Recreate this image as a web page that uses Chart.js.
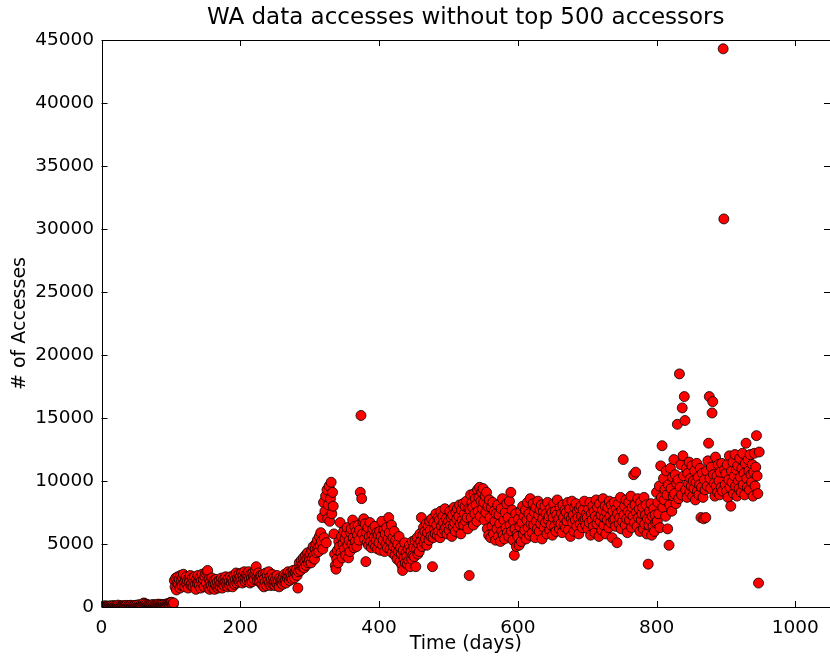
<!DOCTYPE html>
<html>
<head>
<meta charset="utf-8">
<title>WA data accesses</title>
<script src="https://cdn.jsdelivr.net/npm/chart.js@4/dist/chart.umd.min.js"></script>
<style>
  html, body { margin: 0; padding: 0; background: #fff; }
  canvas { display: block; }
</style>
</head>
<body>
<canvas id="chart" width="830" height="660"></canvas>
<script>
// Daily access counts (excluding the top 500 accessors), one value per day,
// grouped by 100-day blocks starting at day 0.
const days000 = [
  0, 50, 20, 80, 0, 30, 100, 40, 0, 60,
  20, 0, 90, 30, 70, 10, 40, 120, 0, 50,
  80, 30, 0, 60, 150, 20, 40, 90, 10, 70,
  30, 110, 50, 0, 80, 40, 130, 20, 60, 90,
  10, 70, 140, 30, 50, 100, 0, 80, 120, 40,
  60, 150, 20, 90, 180, 50, 110, 70, 200, 130,
  250, 320, 180, 260, 140, 210, 90, 170, 120, 60,
  100, 150, 40, 130, 200, 80, 110, 170, 60, 140,
  190, 90, 230, 120, 160, 70, 210, 130, 100, 180,
  60, 150, 220, 90, 130, 250, 170, 300, 210, 350
];
const days100 = [
  280, 380, 220, 150, 320, 2100, 1600, 2300, 1350, 1900,
  2400, 1800, 2200, 1500, 2500, 2000, 1700, 2300, 2600, 1900,
  1600, 2200, 2400, 1800, 2100, 1500, 2300, 2000, 2500, 1700,
  1900, 2300, 1600, 2100, 2400, 1800, 1400, 2200, 1900, 2500,
  2000, 1700, 2300, 1500, 2100, 2600, 1800, 2200, 1600, 2400,
  2700, 1900, 2800, 2900, 1500, 2200, 1400, 2000, 1700, 2300,
  1500, 1900, 2100, 1400, 1800, 2200, 1600, 2000, 1500, 1700,
  2100, 1600, 1900, 2300, 1500, 1800, 2200, 1700, 2000, 2400,
  1800, 2100, 1600, 2300, 2000, 1700, 2400, 1900, 2200, 1600,
  2000, 2500, 1800, 2200, 2700, 1900, 2300, 2100, 2600, 2000
];
const days200 = [
  2400, 2100, 2700, 1900, 2500, 2200, 2800, 2000, 2300, 2600,
  2100, 2500, 2800, 2200, 1900, 2600, 2300, 2000, 2700, 2400,
  2200, 2600, 2900, 3200, 2400, 2100, 2700, 2300, 2000, 2500,
  2400, 1800, 2200, 2600, 1600, 2300, 2000, 2700, 1700, 2500,
  2100, 2800, 1900, 2400, 1700, 2200, 2600, 1800, 2300, 2000,
  1700, 2200, 1900, 2500, 1800, 2100, 1600, 2300, 2000, 1900,
  2200, 1800, 2400, 2000, 2600, 2100, 1900, 2500, 2300, 2800,
  2400, 2100, 2700, 2300, 2500, 2200, 2900, 2600, 2300, 2800,
  2700, 3000, 2500, 1500, 2800, 3500, 3100, 2900, 3700, 3200,
  3400, 3900, 3100, 3600, 4100, 3300, 3800, 4300, 3500, 4000
];
const days300 = [
  3700, 4200, 3500, 4500, 3900, 4800, 4100, 3800, 4600, 5000,
  4300, 5300, 4700, 4400, 5600, 4900, 5900, 5200, 7100, 4600,
  8300, 5500, 7600, 8800, 5100, 9300, 7000, 8100, 9600, 6800,
  8600, 9900, 7400, 9100, 8000, 5800, 4200, 3300, 3000, 3800,
  4500, 3500, 5200, 4800, 6700, 4300, 5600, 3900, 5000, 6000,
  4600, 5400, 4100, 5800, 6300, 4900, 3900, 5300, 4400, 5900,
  6200, 5000, 6900, 5500, 4700, 6400, 5200, 6000, 4800, 5700,
  6500, 5300, 6100, 9100, 15200, 8600, 5800, 6800, 7000, 5400,
  6600, 3600, 5900, 5100, 6300, 4900, 5600, 6700, 5200, 4700,
  5800, 6200, 5000, 5500, 6400, 4800, 5300, 5900, 4600, 5700
];
const days400 = [
  5100, 6000, 4500, 5600, 6800, 4900, 5300, 6100, 4400, 5800,
  5000, 6300, 4700, 5400, 7100, 5900, 4600, 5200, 6500, 4300,
  5500, 4800, 6000, 4100, 5300, 4600, 3800, 5000, 4400, 5600,
  3600, 4700, 4200, 3300, 2900, 4500, 3900, 5100, 3500, 4300,
  4000, 3400, 4600, 3700, 4900, 3200, 4400, 3800, 5200, 4100,
  4700, 4000, 5300, 3200, 4600, 5500, 4200, 5000, 4400, 5800,
  5200, 7100, 4800, 5700, 6300, 5100, 6000, 5400, 6600, 4900,
  5900, 6400, 5300, 6800, 6100, 5600, 7000, 3200, 5500, 6700,
  6200, 5800, 7400, 6500, 5700, 7100, 6000, 6900, 5500, 7600,
  6400, 5900, 7200, 6700, 6100, 7800, 6300, 7000, 5800, 6600
];
const days500 = [
  6800, 6100, 7600, 6500, 7100, 5600, 7300, 6400, 7900, 6700,
  6000, 7500, 7000, 7800, 6300, 7200, 8100, 6600, 5800, 7700,
  6900, 8200, 6500, 7400, 8000, 6800, 8400, 7100, 6200, 7800,
  2500, 7700, 8900, 7100, 8300, 7900, 6500, 9000, 7400, 8600,
  8100, 6800, 9300, 7600, 8700, 9500, 7200, 8400, 9100, 7800,
  9400, 8300, 6900, 8800, 7500, 9100, 6200, 8000, 5700, 8500,
  7100, 5500, 7900, 6400, 8300, 5800, 7600, 6800, 5300, 7400,
  6200, 8100, 5600, 7300, 6600, 5200, 7800, 6000, 8600, 5700,
  6900, 5400, 7500, 6300, 8200, 5900, 7100, 5600, 8400, 6500,
  9100, 6000, 7700, 5300, 6800, 4100, 6200, 7400, 4800, 5800
];
const days600 = [
  5600, 7000, 4900, 6400, 7600, 5200, 6700, 8000, 5800, 7200,
  6100, 7700, 5400, 6900, 8300, 6300, 7400, 5700, 8600, 6600,
  7100, 5900, 8200, 6500, 7500, 5500, 7900, 6800, 6200, 8400,
  7300, 6000, 7700, 6600, 8100, 5400, 7000, 7600, 6300, 8000,
  6700, 7400, 5800, 8300, 6900, 7200, 6100, 7800, 6500, 7500,
  5700, 7100, 8200, 6400, 7600, 6000, 7300, 8500, 6800, 7000,
  6200, 7900, 6600, 7400, 5900, 8100, 7100, 6500, 7700, 6300,
  7500, 6800, 8300, 6100, 7200, 7800, 5600, 7000, 8400, 6700,
  7300, 6000, 7900, 6900, 8200, 6400, 7600, 7100, 5800, 7800,
  6600, 8000, 7200, 6300, 7700, 6900, 8400, 7000, 6500, 7400
];
const days700 = [
  7100, 6200, 7800, 6700, 8300, 5700, 7400, 6900, 8000, 6400,
  7600, 5900, 7200, 8500, 6600, 7900, 7000, 5600, 8200, 6800,
  7300, 6100, 7700, 8600, 6500, 7100, 8000, 5800, 7500, 6900,
  7900, 6300, 8400, 7200, 6700, 8100, 5500, 7600, 6900, 8300,
  7000, 6400, 7800, 5100, 7400, 8200, 6600, 7100, 8700, 6200,
  7700, 6800, 11700, 7300, 8000, 6500, 8500, 7000, 5900, 7600,
  8300, 6900, 7400, 8800, 6300, 7900, 7200, 10500, 6700, 8100,
  10700, 7500, 6400, 8600, 7100, 7800, 6000, 8300, 6900, 7400,
  7900, 6200, 8700, 6600, 7300, 8100, 5800, 7000, 3400, 6500,
  7600, 6900, 8200, 5700, 7200, 6400, 7800, 6000, 7300, 6700
];
const days800 = [
  9100, 6800, 8300, 7400, 9600, 6300, 11200, 8700, 12800, 7900,
  10200, 8500, 9300, 7200, 10800, 8900, 6200, 9700, 4900, 8100,
  11000, 9400, 7600, 10300, 8800, 11700, 9000, 10500, 8200, 9800,
  14500, 10100, 8600, 18500, 9500, 11300, 8900, 15800, 12000, 10400,
  16700, 14800, 9300, 11000, 8700, 10600, 9800, 11500, 9100, 10200,
  9600, 11200, 8800, 10000, 9400, 10800, 8500, 9900, 11400, 9200,
  10300, 8900, 9700, 11000, 7100, 9500, 10600, 8700, 7000, 10100,
  9300, 7100, 10800, 9600, 11600, 13000, 16700, 10200, 9400, 11100,
  15400, 16300, 10500, 9800, 8800, 11900, 9600, 10400, 9100, 11300,
  10000, 8900, 10700, 9500, 11400, 9200, 44300, 30800, 10900, 9700
];
const days900 = [
  10600, 9200, 11300, 8700, 10100, 12000, 9500, 8000, 10800, 9900,
  11500, 9000, 10400, 12100, 9600, 10900, 8800, 11200, 10000, 9400,
  11800, 10300, 9100, 11000, 12200, 9700, 10600, 8900, 11400, 13000,
  10200, 9500, 11700, 10800, 9300, 12100, 10500, 9900, 11300, 8800,
  10700, 12200, 9600, 11100, 13600, 10400, 9000, 1900, 12300
];

// Axis ticks
const xTickValues = [0, 200, 400, 600, 800, 1000];
const yTickValues = [0, 5000, 10000, 15000, 20000, 25000, 30000, 35000, 40000, 45000];

const dailyAccesses = [].concat(days000, days100, days200, days300, days400,
                                days500, days600, days700, days800, days900);
const points = dailyAccesses.map((v, day) => ({ x: day, y: v }));

const FONT = "'DejaVu Sans', 'Liberation Sans', sans-serif";
const INK = '#000';

// Closed black frame with inward tick marks on all four sides
const framePlugin = {
  id: 'frame',
  afterDatasetsDraw(chart) {
    const { ctx, chartArea: a, scales: { x, y } } = chart;
    const len = 6;
    ctx.save();
    ctx.strokeStyle = INK;
    ctx.lineWidth = 1;
    ctx.beginPath();
    for (const t of x.ticks) {
      const px = Math.round(x.getPixelForValue(t.value)) + 0.5;
      ctx.moveTo(px, a.bottom); ctx.lineTo(px, a.bottom - len);
      ctx.moveTo(px, a.top); ctx.lineTo(px, a.top + len);
    }
    for (const t of y.ticks) {
      const py = Math.round(y.getPixelForValue(t.value)) + 0.5;
      ctx.moveTo(a.left, py); ctx.lineTo(a.left + len, py);
      ctx.moveTo(a.right, py); ctx.lineTo(a.right - len, py);
    }
    ctx.stroke();
    ctx.strokeRect(Math.round(a.left) + 0.5, Math.round(a.top) + 0.5,
                   Math.round(a.right - a.left) - 1, Math.round(a.bottom - a.top));
    ctx.restore();
  }
};

new Chart(document.getElementById('chart'), {
  type: 'scatter',
  data: {
    datasets: [{
      data: points,
      pointRadius: 5,
      pointHoverRadius: 5,
      pointBackgroundColor: '#ff0000',
      pointBorderColor: '#000',
      pointBorderWidth: 0.8,
      clip: 0
    }]
  },
  options: {
    responsive: false,
    animation: false,
    devicePixelRatio: 1,
    layout: { autoPadding: false, padding: { left: 0, right: 0, top: 0, bottom: 0 } },
    plugins: {
      legend: { display: false },
      tooltip: { enabled: false },
      title: {
        display: true,
        text: 'WA data accesses without top 500 accessors',
        fullSize: false,
        color: INK,
        font: { family: FONT, size: 23, weight: 'normal' },
        padding: { top: 4, bottom: 8.4 }
      }
    },
    scales: {
      x: {
        type: 'linear',
        min: 0,
        max: 1050,
        afterBuildTicks: s => { s.ticks = xTickValues.map(v => ({ value: v })); },
        afterFit: s => { s.height = 53; s.paddingLeft = 0; s.paddingRight = 0; },
        grid: { display: false, drawTicks: false },
        border: { display: false },
        ticks: {
          color: INK,
          padding: 10,
          maxRotation: 0,
          font: { family: FONT, size: 18.5 },
          callback: v => String(v)
        },
        title: {
          display: true,
          text: 'Time (days)',
          color: INK,
          font: { family: FONT, size: 19 },
          padding: { top: 0, bottom: 5 }
        }
      },
      y: {
        type: 'linear',
        min: 0,
        max: 45000,
        afterBuildTicks: s => { s.ticks = yTickValues.map(v => ({ value: v })); },
        afterFit: s => { s.width = 101.5; s.paddingTop = 0; s.paddingBottom = 0; },
        grid: { display: false, drawTicks: false },
        border: { display: false },
        ticks: {
          color: INK,
          padding: 7.5,
          font: { family: FONT, size: 18.5 },
          callback: v => String(v)
        },
        title: {
          display: true,
          text: '# of Accesses',
          color: INK,
          font: { family: FONT, size: 19 },
          padding: { top: 9, bottom: 0 }
        }
      }
    }
  },
  plugins: [framePlugin]
});
</script>
</body>
</html>
